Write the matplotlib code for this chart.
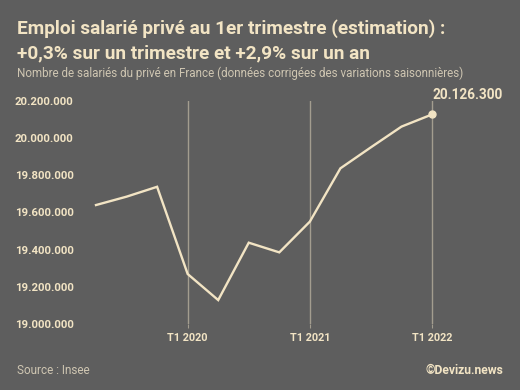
import matplotlib.pyplot as plt
import matplotlib.ticker as mticker

# Emploi salarié privé, T2 2019 -> T1 2022 (millions)
quarters = ["T2 2019", "T3 2019", "T4 2019", "T1 2020", "T2 2020", "T3 2020",
            "T4 2020", "T1 2021", "T2 2021", "T3 2021", "T4 2021", "T1 2022"]
emploi = [19.640, 19.685, 19.738, 19.270, 19.130, 19.438,
          19.386, 19.551, 19.837, 19.950, 20.061, 20.1263]
yticks = [19.0, 19.2, 19.4, 19.6, 19.8, 20.0, 20.2]
xtick_labels = ["T1 2020", "T1 2021", "T1 2022"]

BG = "#5e5e5e"
CREAM = "#f2e4c4"
GRID = "#a39d8f"

W, H = 520, 390
fig = plt.figure(figsize=(5.2, 3.9), dpi=100, facecolor=BG)
plt.rcParams['font.family'] = ['Roboto', 'DejaVu Sans']

# axes placed in pixel terms: y 100.7 -> 324.3, x 80 -> 480
ax = fig.add_axes([80 / W, 1 - 324.3 / H, 400 / W, (324.3 - 100.7) / H])
ax.set_facecolor(BG)

x = list(range(len(quarters)))
ax.plot(x, emploi, color=CREAM, lw=1.7, solid_joinstyle='miter')
ax.plot(x[-1], emploi[-1], 'o', color=CREAM, ms=5)
ax.annotate("20.126.300", (x[-1], emploi[-1]), xytext=(0, 9),
            textcoords='offset points', ha='left', va='bottom',
            color=CREAM, fontsize=9.8, fontweight='bold')

px = 30.55
ax.set_xlim(-16 / px, 384 / px)
ax.set_ylim(19.0, 20.2)

tick_pos = [quarters.index(q) for q in xtick_labels]
ax.set_xticks(tick_pos)
ax.set_xticklabels(xtick_labels)
ax.set_yticks(yticks)
ax.yaxis.set_major_formatter(mticker.FuncFormatter(
    lambda v, p: f"{int(round(v * 1e6)):,}".replace(",", ".")))

for t in tick_pos:
    ax.axvline(t, color=GRID, lw=1, zorder=0)

ax.tick_params(axis='y', length=0, pad=4.5, labelsize=8.2, labelcolor=CREAM)
ax.tick_params(axis='x', length=3, color=GRID, pad=3, labelsize=7.8, labelcolor=CREAM)
for lab in ax.get_xticklabels() + ax.get_yticklabels():
    lab.set_fontweight('bold')
for s in ax.spines.values():
    s.set_visible(False)

fig.text(17 / W, 1 - 34 / H, "Emploi salarié privé au 1er trimestre (estimation) :",
         color=CREAM, fontsize=13.7, fontweight='bold', ha='left', va='baseline')
fig.text(17 / W, 1 - 58 / H, "+0,3% sur un trimestre et +2,9% sur un an",
         color=CREAM, fontsize=13.7, fontweight='bold', ha='left', va='baseline')
fig.text(17 / W, 1 - 73 / H,
         "Nombre de salariés du privé en France (données corrigées des variations saisonnières)",
         color="#cfc6b2", fontsize=8.4, ha='left', va='center')
fig.text(17 / W, 1 - 370 / H, "Source : Insee", color="#cfc6b2", fontsize=8.5,
         ha='left', va='center')
fig.text(503 / W, 1 - 370 / H, "©Devizu.news", color=CREAM, fontsize=8.7,
         fontweight='bold', ha='right', va='center')

fig.savefig("out.png", dpi=100, facecolor=BG)
